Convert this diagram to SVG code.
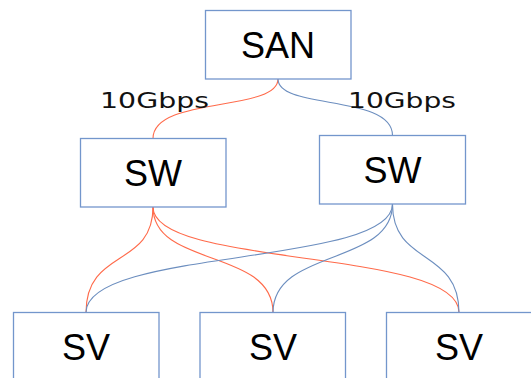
<svg xmlns="http://www.w3.org/2000/svg" width="531" height="378" viewBox="0 0 531 378">
  <style>
    .box { fill: #ffffff; stroke: #7396cc; stroke-width: 1.3; }
    .lbl { font-family: "Liberation Sans", Arial, sans-serif; font-size: 36px; fill: #000; text-anchor: middle; }
    .bw { font-family: "DejaVu Sans", sans-serif; font-size: 20.5px; fill: #111; }
    .red { fill: none; stroke: #ff6a4a; stroke-width: 1.1; }
    .blue { fill: none; stroke: #6c8ebf; stroke-width: 1.1; }
  </style>
  <rect width="531" height="378" fill="#ffffff"/>
  <g id="connectors">
    <path class="red" d="M278,79 C278,112 153,96 153,138.5"/>
    <path class="blue" d="M278,79 C278,110 392.5,94 392.5,135.5"/>
    <path class="red" d="M153,207 C153,268 86,248 86,312.5"/>
    <path class="red" d="M153,207 C153,268 273,248 273,312.5"/>
    <path class="red" d="M153,207 C153,268 459,248 459,312.5"/>
    <path class="blue" d="M392.5,204 C392.5,266 86,248 86,312.5"/>
    <path class="blue" d="M392.5,204 C392.5,266 273,248 273,312.5"/>
    <path class="blue" d="M392.5,204 C392.5,266 459,248 459,312.5"/>
    <text class="bw" x="100" y="107.5" textLength="109" lengthAdjust="spacingAndGlyphs">10Gbps</text>
    <text class="bw" x="348" y="107.5" textLength="108" lengthAdjust="spacingAndGlyphs">10Gbps</text>
  </g>
  <g id="san">
    <rect class="box" x="205.5" y="10.5" width="145.5" height="68.5"/>
    <text class="lbl" x="278" y="57.5">SAN</text>
  </g>
  <g id="sw-left">
    <rect class="box" x="80.5" y="138.5" width="145.5" height="68.5"/>
    <text class="lbl" x="153" y="186">SW</text>
  </g>
  <g id="sw-right">
    <rect class="box" x="319.5" y="135.5" width="146" height="68.5"/>
    <text class="lbl" x="392.5" y="183">SW</text>
  </g>
  <g id="sv-left">
    <rect class="box" x="13.5" y="312.5" width="145.5" height="80"/>
    <text class="lbl" x="86" y="360">SV</text>
  </g>
  <g id="sv-middle">
    <rect class="box" x="200" y="312.5" width="145.5" height="80"/>
    <text class="lbl" x="273" y="360">SV</text>
  </g>
  <g id="sv-right">
    <rect class="box" x="386.5" y="312.5" width="145.5" height="80"/>
    <text class="lbl" x="459" y="360">SV</text>
  </g>
</svg>
